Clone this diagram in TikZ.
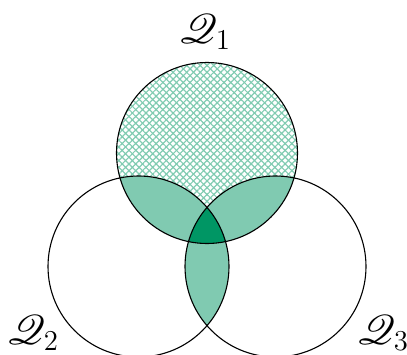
\documentclass[tikz,border=0pt]{standalone}
\usepackage{mathrsfs}
\usetikzlibrary{patterns.meta}
\definecolor{dgreen}{RGB}{0,150,100}
\colorlet{mgreen}{dgreen!50!white}
\tikzset{
  setlabel/.style={font=\huge, inner sep=0pt},
  outline/.style={draw=black, line width=0.55pt}
}
\begin{document}
\begin{tikzpicture}[x=0.5pt,y=-0.5pt]
\useasboundingbox (0,0) rectangle (407,354);
\def\ra{90.5}
\coordinate (c1) at (207,153);
\coordinate (c2) at (138.5,266.5);
\coordinate (c3) at (275.5,266.5);
% hatch of Q1
\fill[pattern={Lines[angle=45,distance=2.4pt,line width=0.6pt]}, pattern color=mgreen] (c1) circle[radius=\ra];
\fill[pattern={Lines[angle=-45,distance=2.4pt,line width=0.6pt]}, pattern color=mgreen] (c1) circle[radius=\ra];
% pairwise intersections
\begin{scope}
  \clip (c1) circle[radius=\ra];
  \fill[mgreen] (c2) circle[radius=\ra];
  \fill[mgreen] (c3) circle[radius=\ra];
\end{scope}
\begin{scope}
  \clip (c2) circle[radius=\ra];
  \fill[mgreen] (c3) circle[radius=\ra];
\end{scope}
% triple intersection
\begin{scope}
  \clip (c1) circle[radius=\ra];
  \clip (c2) circle[radius=\ra];
  \fill[dgreen] (c3) circle[radius=\ra];
\end{scope}
% outlines
\draw[outline] (c1) circle[radius=\ra];
\draw[outline] (c2) circle[radius=\ra];
\draw[outline] (c3) circle[radius=\ra];
% labels
\node[setlabel] (l1) at (205,32) {$\mathscr{Q}_1$};
\node[setlabel] (l2) at (33,333) {$\mathscr{Q}_2$};
\node[setlabel] (l3) at (383,333) {$\mathscr{Q}_3$};
\end{tikzpicture}
\end{document}
